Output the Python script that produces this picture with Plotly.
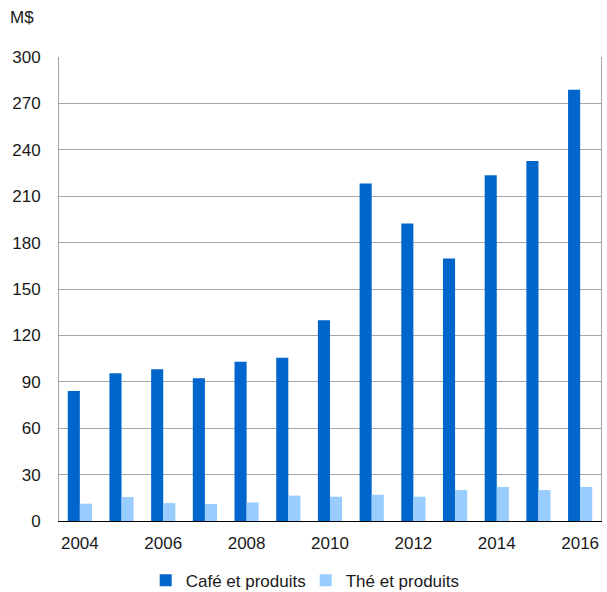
import plotly.graph_objects as go

years = [2004, 2005, 2006, 2007, 2008, 2009, 2010, 2011, 2012, 2013, 2014, 2015, 2016]
cafe = [84, 95.6, 98.1, 92.3, 102.9, 105.6, 129.8, 218.2, 192.4, 169.8, 223.6, 232.8, 278.9]
the = [11.2, 15.5, 11.6, 11.0, 12.0, 16.4, 15.7, 17.0, 15.7, 20.0, 22.0, 20.0, 22.0]
x_ticks = [2004, 2006, 2008, 2010, 2012, 2014, 2016]
x_labels = ["2004", "2006", "2008", "2010", "2012", "2014", "2016"]
y_ticks = [0, 30, 60, 90, 120, 150, 180, 210, 240, 270, 300]
series_names = ["Café et produits", "Thé et produits"]
unit_label = "M$"

FONT = "Liberation Sans, Arial, sans-serif"

fig = go.Figure()
fig.add_trace(go.Bar(x=years, y=cafe, name=series_names[0],
                     marker=dict(color="#0066CC", line=dict(width=0))))
fig.add_trace(go.Bar(x=years, y=the, name=series_names[1],
                     marker=dict(color="#99CCFF", line=dict(width=0))))

fig.update_layout(
    width=607, height=592,
    margin=dict(l=59, r=6, t=57, b=71),
    paper_bgcolor="white", plot_bgcolor="white",
    barmode="group", bargap=0.42, bargroupgap=0,
    font=dict(family=FONT, size=17, color="#1a1a1a"),
    showlegend=True,
    legend=dict(orientation="h", xref="container", yref="container",
                x=0.24, xanchor="left", y=0.019, yanchor="middle",
                font=dict(size=17), itemwidth=30, traceorder="normal",
                entrywidth=115, entrywidthmode="pixels",
                bgcolor="rgba(0,0,0,0)"),
    annotations=[dict(text=unit_label, xref="paper", yref="paper",
                      x=-0.094, y=1.086, xanchor="left", yanchor="middle",
                      showarrow=False, font=dict(size=17, family=FONT, color="#1a1a1a"))],
)
fig.update_xaxes(range=[2003.5, 2016.5], tickvals=x_ticks, ticktext=x_labels,
                 showgrid=False, showline=True, linecolor="black", linewidth=1,
                 ticks="", ticklabelstandoff=7, zeroline=False)
fig.update_yaxes(range=[0, 300], tickvals=y_ticks, showgrid=True, gridcolor="#A6A6A6",
                 gridwidth=1, showline=True, linecolor="#A6A6A6", linewidth=1, mirror=True,
                 ticks="", ticklabelstandoff=14, zeroline=False)

fig.write_html("out.html", config={"displayModeBar": False},
               post_script="document.body.style.margin='0';")
